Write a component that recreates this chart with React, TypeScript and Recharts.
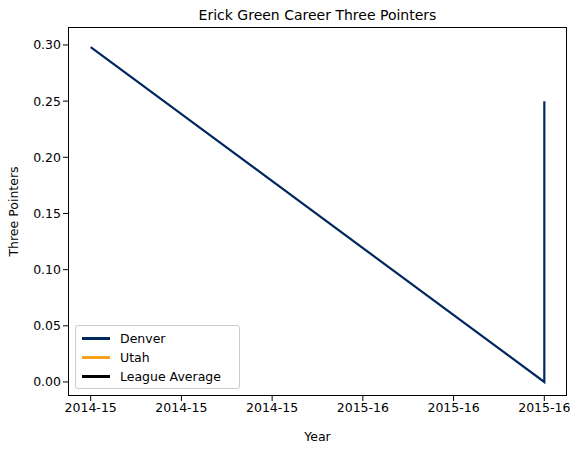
import { LineChart, Line, XAxis, YAxis, Label } from 'recharts';

const seasonsX = [0, 1, 1];
const denverThrees = [0.298, 0.0, 0.25];
const tickPositions = [0, 0.2, 0.4, 0.6, 0.8, 1.0];
const tickLabels = ['2014-15', '2014-15', '2014-15', '2015-16', '2015-16', '2015-16'];
const yTicks = [0, 0.05, 0.1, 0.15, 0.2, 0.25, 0.3];

const legendItems = [
  { name: 'Denver', color: '#00285E' },
  { name: 'Utah', color: '#F9A01B' },
  { name: 'League Average', color: '#000000' },
];

const data = seasonsX.map((x, i) => ({ x, denver: denverThrees[i] }));
const font = 'DejaVu Sans, sans-serif';

export default function App() {
  return (
    <div style={{ position: 'absolute', left: 0, top: 0, width: 582, height: 453, background: '#fff', fontFamily: font }}>
      <div style={{ position: 'absolute', top: 7, left: 68, width: 499, textAlign: 'center', fontSize: 14 }}>
        Erick Green Career Three Pointers
      </div>
      <LineChart width={582} height={453} data={data} margin={{ top: 27, right: 15, left: 0, bottom: 0 }}>
        <XAxis
          dataKey="x"
          type="number"
          domain={[-0.05, 1.05]}
          ticks={tickPositions}
          tickFormatter={(v: number) => tickLabels[tickPositions.indexOf(v)] ?? ''}
          height={57}
          tickSize={5}
          axisLine={false}
          tick={{ fill: '#000', fontSize: 12.5, fontFamily: font }}
          tickLine={{ stroke: '#000' }}
        >
          <Label value="Year" position="insideBottom" offset={12} style={{ fill: '#000', fontSize: 12.5, fontFamily: font }} />
        </XAxis>
        <YAxis
          type="number"
          domain={[-0.0125, 0.316]}
          ticks={yTicks}
          tickFormatter={(v: number) => v.toFixed(2)}
          width={68}
          tickSize={5}
          axisLine={false}
          allowDataOverflow
          tick={{ fill: '#000', fontSize: 12.5, fontFamily: font }}
          tickLine={{ stroke: '#000' }}
        >
          <Label value="Three Pointers" angle={-90} position="insideLeft" offset={14} style={{ fill: '#000', fontSize: 12.5, fontFamily: font, textAnchor: 'middle' }} />
        </YAxis>
        <Line dataKey="denver" stroke="#00285E" strokeWidth={2.2} dot={false} isAnimationActive={false} />
      </LineChart>
      <div style={{ position: 'absolute', left: 68, top: 27, width: 499, height: 369, border: '1px solid #000', boxSizing: 'border-box', pointerEvents: 'none' }} />
      <div
        style={{
          position: 'absolute', left: 75, top: 325, width: 165, height: 64, border: '1px solid #ccc', borderRadius: 3,
          background: 'rgba(255,255,255,0.8)', boxSizing: 'border-box', padding: '3px 6px', fontSize: 12.5,
        }}
      >
        {legendItems.map((it) => (
          <div key={it.name} style={{ display: 'flex', alignItems: 'center', height: 19 }}>
            <span style={{ display: 'inline-block', width: 28, height: 2.5, background: it.color, marginRight: 10 }} />
            {it.name}
          </div>
        ))}
      </div>
    </div>
  );
}
